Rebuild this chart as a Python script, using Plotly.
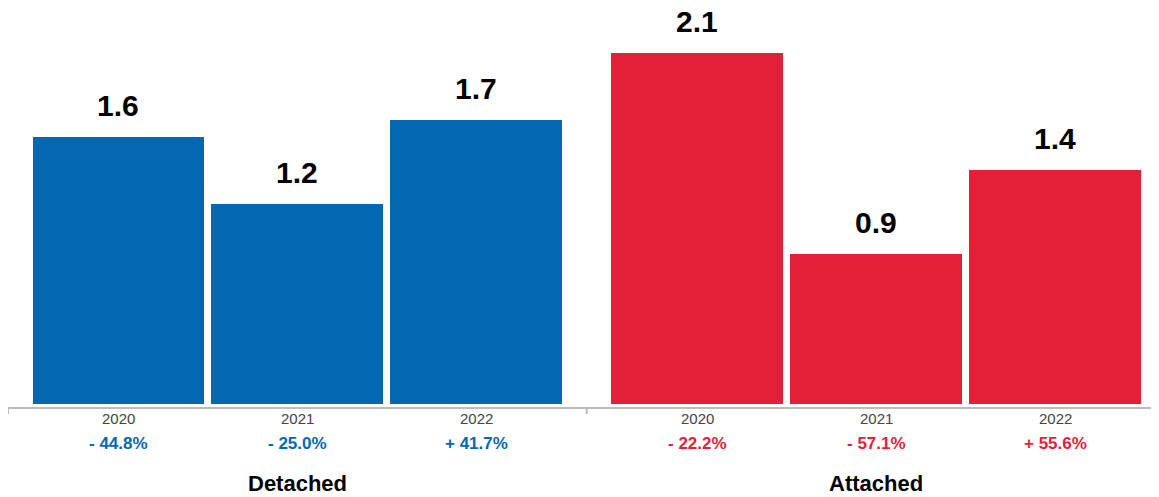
import plotly.graph_objects as go

groups = ["Detached", "Attached"]
years = ["2020", "2021", "2022"]
detached_values = [1.6, 1.2, 1.7]
attached_values = [2.1, 0.9, 1.4]
detached_changes = ["- 44.8%", "- 25.0%", "+ 41.7%"]
attached_changes = ["- 22.2%", "- 57.1%", "+ 55.6%"]

BLUE = "#0468B1"
RED = "#E31F3A"
FONT = "Liberation Sans, Arial, Helvetica, sans-serif"

group_gap = 0.234
offsets = [0, 3 + group_gap]
series = [
    (detached_values, detached_changes, BLUE),
    (attached_values, attached_changes, RED),
]

fig = go.Figure()
annotations = []
for gi, (vals, changes, color) in enumerate(series):
    xs = [offsets[gi] + i for i in range(len(years))]
    fig.add_trace(go.Bar(
        x=xs, y=vals, width=0.96, marker=dict(color=color, line=dict(width=0)),
        hoverinfo="skip", showlegend=False,
    ))
    for x, v, c, yr in zip(xs, vals, changes, years):
        annotations.append(dict(
            x=x, y=v, xref="x", yref="y", text=f"<b>{v:.1f}</b>", showarrow=False,
            yanchor="bottom", yshift=14, borderpad=0,
            font=dict(family=FONT, size=30, color="#000"),
        ))
        annotations.append(dict(
            x=x, y=0, xref="x", yref="paper", text=yr, showarrow=False,
            yanchor="middle", yshift=-11, font=dict(family=FONT, size=15, color="#444"),
        ))
        annotations.append(dict(
            x=x, y=0, xref="x", yref="paper", text=f"<b>{c}</b>", showarrow=False,
            yanchor="middle", yshift=-36, font=dict(family=FONT, size=17, color=color),
        ))
    annotations.append(dict(
        x=offsets[gi] + 1, y=0, xref="x", yref="paper", text=f"<b>{groups[gi]}</b>",
        showarrow=False, yanchor="middle", yshift=-76,
        font=dict(family=FONT, size=22, color="#000"),
    ))

half = (offsets[1] - 2) / 2
left = -half
mid = 2 + half
right = offsets[1] + 2 + half
shapes = [dict(type="line", xref="x", yref="paper", ysizemode="pixel",
               yanchor=0, x0=bx, x1=bx, y0=0, y1=-7, line=dict(color="#BBBBBB", width=2))
          for bx in [left, mid, right]]

# page body has an 8px margin; compensate so the plot sits where the reference does
fig.update_layout(
    width=1151, height=489,
    margin=dict(l=0, r=0, t=2, b=90),
    plot_bgcolor="white", paper_bgcolor="white",
    bargap=0, barmode="overlay",
    xaxis=dict(range=[left, 5.815], showticklabels=False,
               showline=True, linecolor="#BBBBBB", linewidth=2, showgrid=False,
               zeroline=False, ticks=""),
    yaxis=dict(range=[-0.018, 2.36], visible=False, showgrid=False, zeroline=False),
    annotations=annotations, shapes=shapes,
    font=dict(family=FONT),
)
fig.write_html("out.html")
